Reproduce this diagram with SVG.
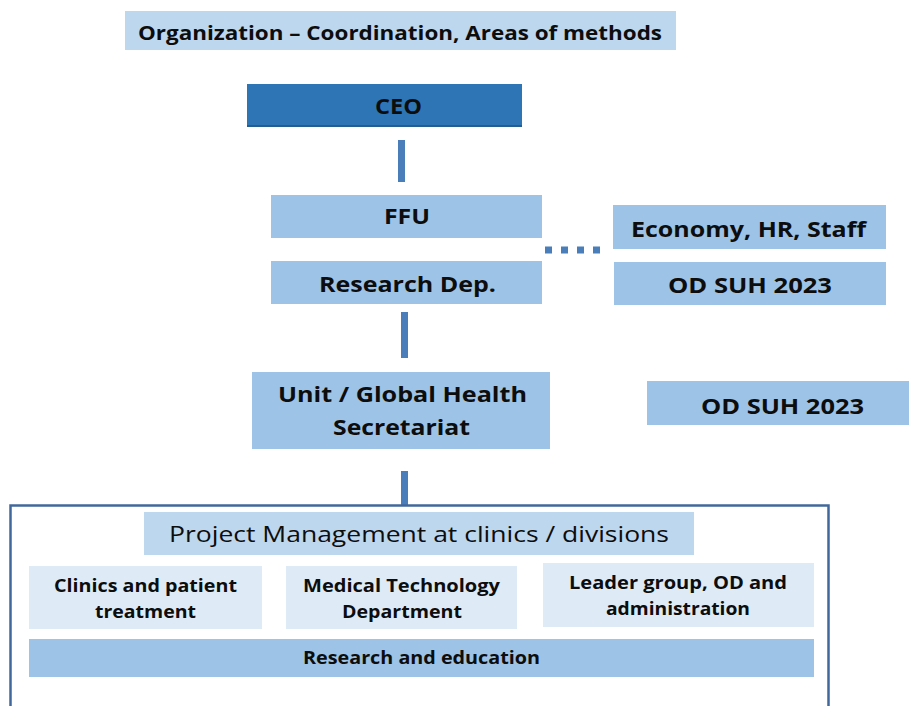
<svg xmlns="http://www.w3.org/2000/svg" width="909" height="706" viewBox="0 0 909 706">
  <style>
    .t { font-family: "Open Sans", "Liberation Sans", sans-serif; font-weight: bold; fill: #0d0d0d; text-anchor: middle; }
    .r { font-family: "Open Sans", "Liberation Sans", sans-serif; font-weight: normal; fill: #0d0d0d; text-anchor: middle; }
    .pale { fill: #bdd7ee; }
    .mid { fill: #9dc3e6; }
    .light { fill: #deebf7; }
    .dark { fill: #2e75b6; }
    .link { stroke: #4a7ebb; stroke-width: 7; fill: none; }
  </style>
  <rect width="909" height="706" fill="#ffffff"/>

  <g id="connectors">
    <line class="link" x1="401.5" y1="140" x2="401.5" y2="182"/>
    <line class="link" x1="404.5" y1="312" x2="404.5" y2="358"/>
    <line class="link" x1="404.5" y1="471" x2="404.5" y2="505"/>
    <line class="link" x1="545" y1="250" x2="601" y2="250" stroke-width="7" stroke-dasharray="7 9"/>
  </g>

  <g id="title">
    <rect class="pale" x="125" y="11" width="551" height="39"/>
    <text class="t" x="400" y="39.5" font-size="20" textLength="524" lengthAdjust="spacingAndGlyphs">Organization – Coordination, Areas of methods</text>
  </g>

  <g id="ceo">
    <rect class="dark" x="247" y="84" width="275" height="43"/>
    <rect x="247" y="125" width="275" height="2" fill="#245d91"/>
    <text class="t" x="398.5" y="114" font-size="22" textLength="47" lengthAdjust="spacingAndGlyphs">CEO</text>
  </g>

  <g id="ffu">
    <rect class="mid" x="271" y="195" width="271" height="43"/>
    <text class="t" x="407" y="224" font-size="21" textLength="46" lengthAdjust="spacingAndGlyphs">FFU</text>
  </g>

  <g id="research-dep">
    <rect class="mid" x="271" y="261" width="271" height="43"/>
    <text class="t" x="407.5" y="292" font-size="21" textLength="177" lengthAdjust="spacingAndGlyphs">Research Dep.</text>
  </g>

  <g id="economy">
    <rect class="mid" x="613" y="205" width="273" height="44"/>
    <text class="t" x="748.5" y="237" font-size="21" textLength="235" lengthAdjust="spacingAndGlyphs">Economy, HR, Staff</text>
  </g>

  <g id="od-suh-1">
    <rect class="mid" x="614" y="262" width="272" height="43"/>
    <text class="t" x="750" y="293" font-size="21" textLength="164" lengthAdjust="spacingAndGlyphs">OD SUH 2023</text>
  </g>

  <g id="unit">
    <rect class="mid" x="252" y="372" width="298" height="77"/>
    <text class="t" x="402.5" y="401.5" font-size="21" textLength="249" lengthAdjust="spacingAndGlyphs">Unit / Global Health</text>
    <text class="t" x="401.5" y="435" font-size="21" textLength="137" lengthAdjust="spacingAndGlyphs">Secretariat</text>
  </g>

  <g id="od-suh-2">
    <rect class="mid" x="647" y="381" width="262" height="44"/>
    <text class="t" x="782.5" y="414" font-size="21" textLength="163" lengthAdjust="spacingAndGlyphs">OD SUH 2023</text>
  </g>

  <g id="clinic-frame">
    <rect x="10.5" y="505.5" width="818" height="220" fill="none" stroke="#41689c" stroke-width="2.5"/>
  </g>

  <g id="project-management">
    <rect class="pale" x="144" y="512" width="550" height="43"/>
    <text class="r" x="419" y="542" font-size="22" textLength="500" lengthAdjust="spacingAndGlyphs">Project Management at clinics / divisions</text>
  </g>

  <g id="clinics">
    <rect class="light" x="29" y="566" width="233" height="63"/>
    <text class="t" x="145.5" y="592" font-size="18" textLength="183" lengthAdjust="spacingAndGlyphs">Clinics and patient</text>
    <text class="t" x="145.5" y="618" font-size="18" textLength="101" lengthAdjust="spacingAndGlyphs">treatment</text>
  </g>

  <g id="medtech">
    <rect class="light" x="286" y="566" width="231" height="63"/>
    <text class="t" x="401.5" y="592" font-size="18" textLength="197" lengthAdjust="spacingAndGlyphs">Medical Technology</text>
    <text class="t" x="402" y="618" font-size="18" textLength="120" lengthAdjust="spacingAndGlyphs">Department</text>
  </g>

  <g id="leader-group">
    <rect class="light" x="543" y="563" width="271" height="64"/>
    <text class="t" x="678" y="589" font-size="18" textLength="218" lengthAdjust="spacingAndGlyphs">Leader group, OD and</text>
    <text class="t" x="678" y="615" font-size="18" textLength="144" lengthAdjust="spacingAndGlyphs">administration</text>
  </g>

  <g id="research-education">
    <rect class="mid" x="29" y="639" width="785" height="38"/>
    <text class="t" x="421.5" y="664" font-size="18" textLength="237" lengthAdjust="spacingAndGlyphs">Research and education</text>
  </g>
</svg>
